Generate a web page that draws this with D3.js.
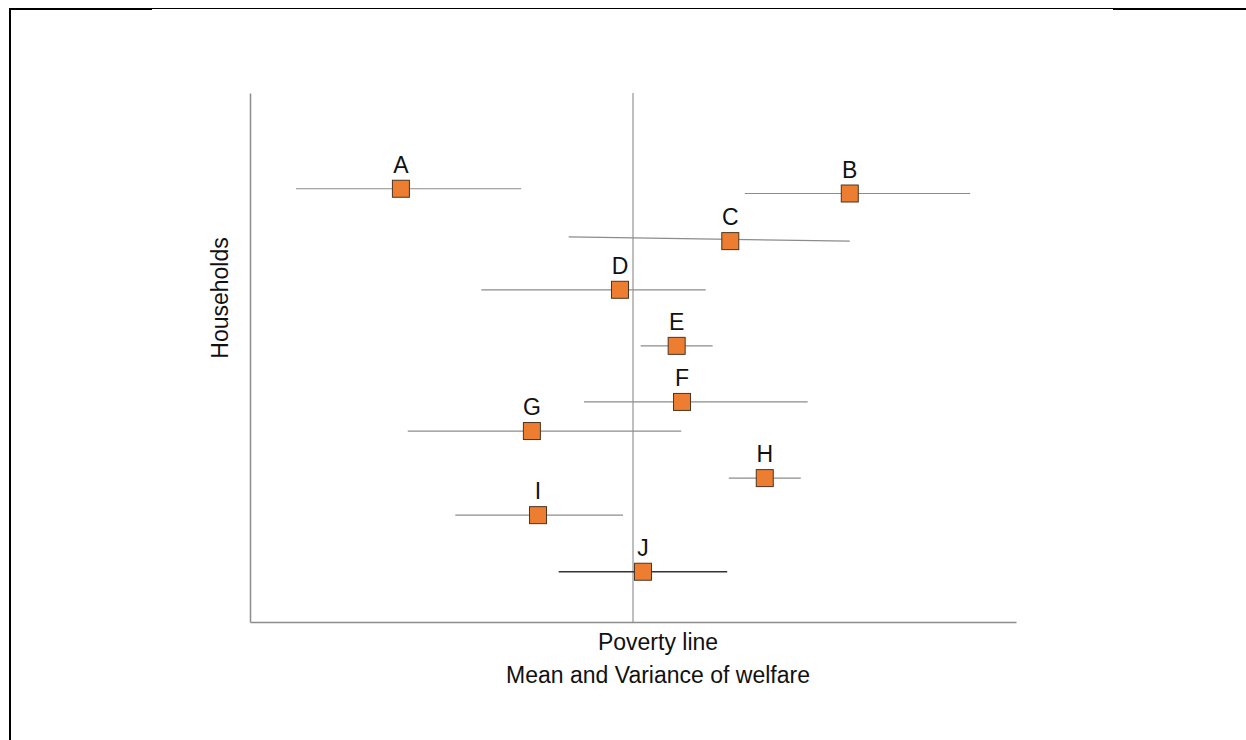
<!DOCTYPE html>
<html>
<head>
<meta charset="utf-8">
<script src="https://cdn.jsdelivr.net/npm/d3@7"></script>
<style>
  body { margin: 0; background: #fff; }
  svg { display: block; font-family: "Liberation Sans", Arial, sans-serif; }
</style>
</head>
<body>
<div id="chart"></div>
<script>
// households (x in welfare units, y in row units)
var households = ['A', 'B', 'C', 'D', 'E', 'F', 'G', 'H', 'I', 'J'];
var means = [19.7, 78.3, 62.7, 48.3, 55.7, 56.4, 36.8, 67.2, 37.6, 51.3];
var lows  = [6.0, 64.6, 41.6, 30.2, 51.0, 43.6, 20.6, 62.5, 26.8, 40.3];
var highs = [35.4, 94.0, 78.3, 59.5, 60.4, 72.8, 56.3, 71.9, 48.7, 62.3];
var rows  = [81.9, 81.0, 72.0, 62.8, 52.2, 41.6, 36.1, 27.2, 20.2, 9.5];
var lowRows = [81.9, 81.0, 72.8, 62.8, 52.2, 41.6, 36.1, 27.2, 20.2, 9.5];
var povertyLine = 50;

var width = 1246, height = 740;
var margin = {left: 250, right: 230, top: 93, bottom: 118};

var svg = d3.select("#chart").append("svg")
  .attr("width", width)
  .attr("height", height);

// page frame
svg.append("line").attr("x1", 152).attr("y1", 8.5).attr("x2", 1113).attr("y2", 8.5)
  .attr("stroke", "#000").attr("stroke-width", 1);
svg.append("line").attr("x1", 9).attr("y1", 9).attr("x2", 152).attr("y2", 9)
  .attr("stroke", "#000").attr("stroke-width", 2);
svg.append("line").attr("x1", 1113).attr("y1", 9).attr("x2", 1246).attr("y2", 9)
  .attr("stroke", "#000").attr("stroke-width", 2);
svg.append("line").attr("x1", 10).attr("y1", 8).attr("x2", 10).attr("y2", height)
  .attr("stroke", "#000").attr("stroke-width", 2);

var x = d3.scaleLinear().domain([0, 100]).range([margin.left, width - margin.right]);
var y = d3.scaleLinear().domain([0, 100]).range([height - margin.bottom, margin.top]);

var data = households.map(function(d, i) {
  return {name: d, mean: means[i], low: lows[i], high: highs[i], row: rows[i], lowRow: lowRows[i]};
});

// axes (no ticks)
svg.append("g")
  .attr("transform", "translate(0," + y(0) + ")")
  .call(d3.axisBottom(x).tickValues([]).tickSizeOuter(0));
svg.append("g")
  .attr("transform", "translate(" + x(0) + ",0)")
  .call(d3.axisLeft(y).tickValues([]).tickSizeOuter(0));
svg.selectAll(".domain").attr("stroke", "#8c8c8c").attr("stroke-width", 1.5);

// poverty line
svg.append("line")
  .attr("x1", x(povertyLine)).attr("x2", x(povertyLine))
  .attr("y1", y(100)).attr("y2", y(0))
  .attr("stroke", "#7f7f7f").attr("stroke-width", 1);

// spread lines
svg.selectAll(".spread")
  .data(data)
  .enter().append("line")
  .attr("class", "spread")
  .attr("x1", function(d) { return x(d.low); })
  .attr("x2", function(d) { return x(d.high); })
  .attr("y1", function(d) { return y(d.lowRow); })
  .attr("y2", function(d) { return y(d.row); })
  .attr("stroke", function(d) { return d.name === 'J' ? '#333' : '#8c8c8c'; })
  .attr("stroke-width", function(d) { return d.name === 'J' ? 1.5 : 1.2; });

// mean markers
var size = 17;
svg.selectAll(".mean")
  .data(data)
  .enter().append("rect")
  .attr("class", "mean")
  .attr("x", function(d) { return x(d.mean) - size / 2; })
  .attr("y", function(d) { return y(d.row) - size / 2; })
  .attr("width", size)
  .attr("height", size)
  .attr("fill", "#ED7D31")
  .attr("stroke", "#4d3420")
  .attr("stroke-width", 1);

svg.selectAll(".label")
  .data(data)
  .enter().append("text")
  .attr("class", "label")
  .attr("x", function(d) { return x(d.mean); })
  .attr("y", function(d) { return y(d.row) - 16; })
  .attr("text-anchor", "middle")
  .attr("font-size", "23px")
  .attr("fill", "#111")
  .text(function(d) { return d.name; });

// axis titles
svg.append("text")
  .attr("x", 658).attr("y", 650)
  .attr("text-anchor", "middle")
  .attr("font-size", "23px").attr("fill", "#111")
  .text("Poverty line");
svg.append("text")
  .attr("x", 658).attr("y", 683)
  .attr("text-anchor", "middle")
  .attr("font-size", "23px").attr("fill", "#111")
  .text("Mean and Variance of welfare");
svg.append("text")
  .attr("transform", "translate(228,298) rotate(-90)")
  .attr("text-anchor", "middle")
  .attr("font-size", "23px").attr("fill", "#111")
  .text("Households");
</script>
</body>
</html>
